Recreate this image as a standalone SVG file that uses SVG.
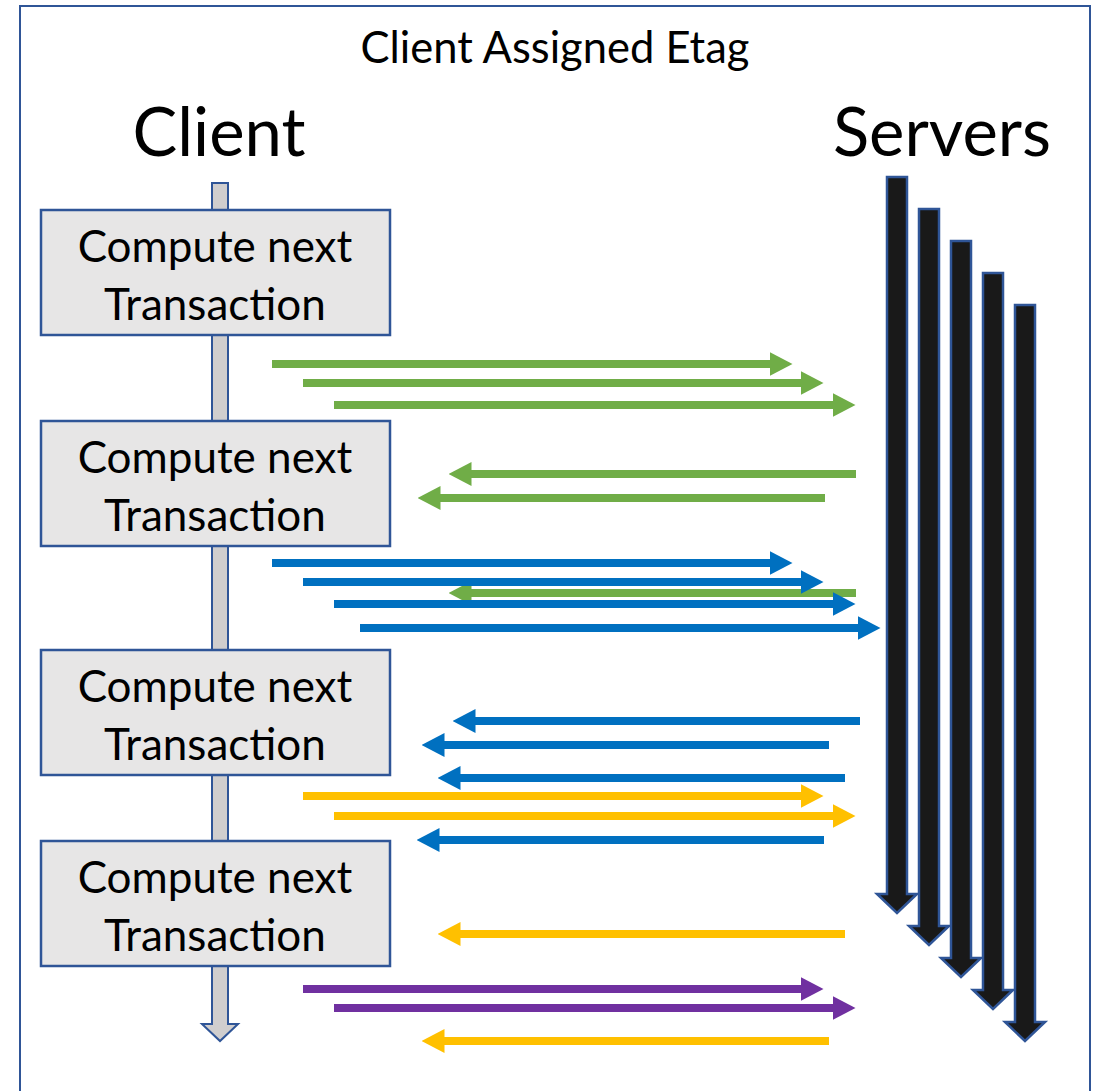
<svg xmlns="http://www.w3.org/2000/svg" width="1100" height="1091" viewBox="0 0 1100 1091">
<style>
.t{font-family:Lato,"Liberation Sans",sans-serif;fill:#000;text-anchor:middle}
.title{font-size:43.5px}
.big{font-size:67px}
.box rect{fill:#E7E6E6;stroke:#2F5597;stroke-width:2.5}
.box text{font-family:Lato,"Liberation Sans",sans-serif;font-size:44px;text-anchor:middle;fill:#000}
.srv{fill:#191919;stroke:#2F5597;stroke-width:2.5}
.c line{stroke-width:8;fill:none}
.g{stroke:#70AD47;marker-end:url(#mg)}
.b{stroke:#0070C0;marker-end:url(#mb)}
.y{stroke:#FFC000;marker-end:url(#my)}
.p{stroke:#7030A0;marker-end:url(#mp)}
</style>
<defs>
<marker id="mg" markerUnits="userSpaceOnUse" markerWidth="23" markerHeight="24" viewBox="0 0 23 24" refX="0.5" refY="12" orient="auto"><path d="M0,0L23,12L0,24z" fill="#70AD47"/></marker>
<marker id="mb" markerUnits="userSpaceOnUse" markerWidth="23" markerHeight="24" viewBox="0 0 23 24" refX="0.5" refY="12" orient="auto"><path d="M0,0L23,12L0,24z" fill="#0070C0"/></marker>
<marker id="my" markerUnits="userSpaceOnUse" markerWidth="23" markerHeight="24" viewBox="0 0 23 24" refX="0.5" refY="12" orient="auto"><path d="M0,0L23,12L0,24z" fill="#FFC000"/></marker>
<marker id="mp" markerUnits="userSpaceOnUse" markerWidth="23" markerHeight="24" viewBox="0 0 23 24" refX="0.5" refY="12" orient="auto"><path d="M0,0L23,12L0,24z" fill="#7030A0"/></marker>
</defs>
<rect x="0" y="0" width="1100" height="1091" fill="#fff"/>
<rect id="frame" x="20" y="6" width="1070" height="1100" fill="none" stroke="#2F5597" stroke-width="2"/>
<text class="t title" x="555" y="63">Client Assigned Etag</text>
<text class="t big" x="219" y="156">Client</text>
<text class="t big" x="942" y="156">Servers</text>

<g id="client-timeline">
<polygon points="212,183 228,183 228,1024 238,1024 220,1041 202,1024 212,1024" fill="#D0CECE" stroke="#2F5597" stroke-width="2"/>
</g>

<g id="servers">
<polygon class="srv" points="887,177 907,177 907,894 917,894 897,913 877,894 887,894"/>
<polygon class="srv" points="919,209 939,209 939,926 949,926 929,945 909,926 919,926"/>
<polygon class="srv" points="951,241 971,241 971,958 981,958 961,977 941,958 951,958"/>
<polygon class="srv" points="983,273 1003,273 1003,990 1013,990 993,1009 973,990 983,990"/>
<polygon class="srv" points="1015,305 1035,305 1035,1022 1045,1022 1025,1041 1005,1022 1015,1022"/>
</g>

<g id="box1" class="box"><rect x="41" y="210" width="349" height="125"/><text x="215" y="262">Compute next</text><text x="215" y="320">Transaction</text></g>
<g id="box2" class="box"><rect x="41" y="421" width="349" height="125"/><text x="215" y="473">Compute next</text><text x="215" y="531">Transaction</text></g>
<g id="box3" class="box"><rect x="41" y="650" width="349" height="125"/><text x="215" y="702">Compute next</text><text x="215" y="760">Transaction</text></g>
<g id="box4" class="box"><rect x="41" y="841" width="349" height="125"/><text x="215" y="893">Compute next</text><text x="215" y="951">Transaction</text></g>

<g id="connectors" class="c">
<line class="g" x1="272" y1="364" x2="770" y2="364"/>
<line class="g" x1="303" y1="383" x2="801" y2="383"/>
<line class="g" x1="334" y1="405" x2="833" y2="405"/>
<line class="g" x1="856" y1="474" x2="471" y2="474"/>
<line class="g" x1="825" y1="498" x2="440" y2="498"/>
<line class="g" x1="856" y1="593" x2="471" y2="593"/>
<line class="b" x1="272" y1="563" x2="770" y2="563"/>
<line class="b" x1="303" y1="582" x2="801" y2="582"/>
<line class="b" x1="334" y1="604" x2="833" y2="604"/>
<line class="b" x1="360" y1="628" x2="858" y2="628"/>
<line class="b" x1="860" y1="721" x2="475" y2="721"/>
<line class="b" x1="829" y1="745" x2="444" y2="745"/>
<line class="b" x1="845" y1="778" x2="460" y2="778"/>
<line class="y" x1="303" y1="796" x2="801" y2="796"/>
<line class="y" x1="334" y1="816" x2="833" y2="816"/>
<line class="b" x1="824" y1="840" x2="439" y2="840"/>
<line class="y" x1="845" y1="934" x2="460" y2="934"/>
<line class="p" x1="303" y1="989" x2="801" y2="989"/>
<line class="p" x1="334" y1="1008" x2="833" y2="1008"/>
<line class="y" x1="829" y1="1041" x2="444" y2="1041"/>
</g>
</svg>
